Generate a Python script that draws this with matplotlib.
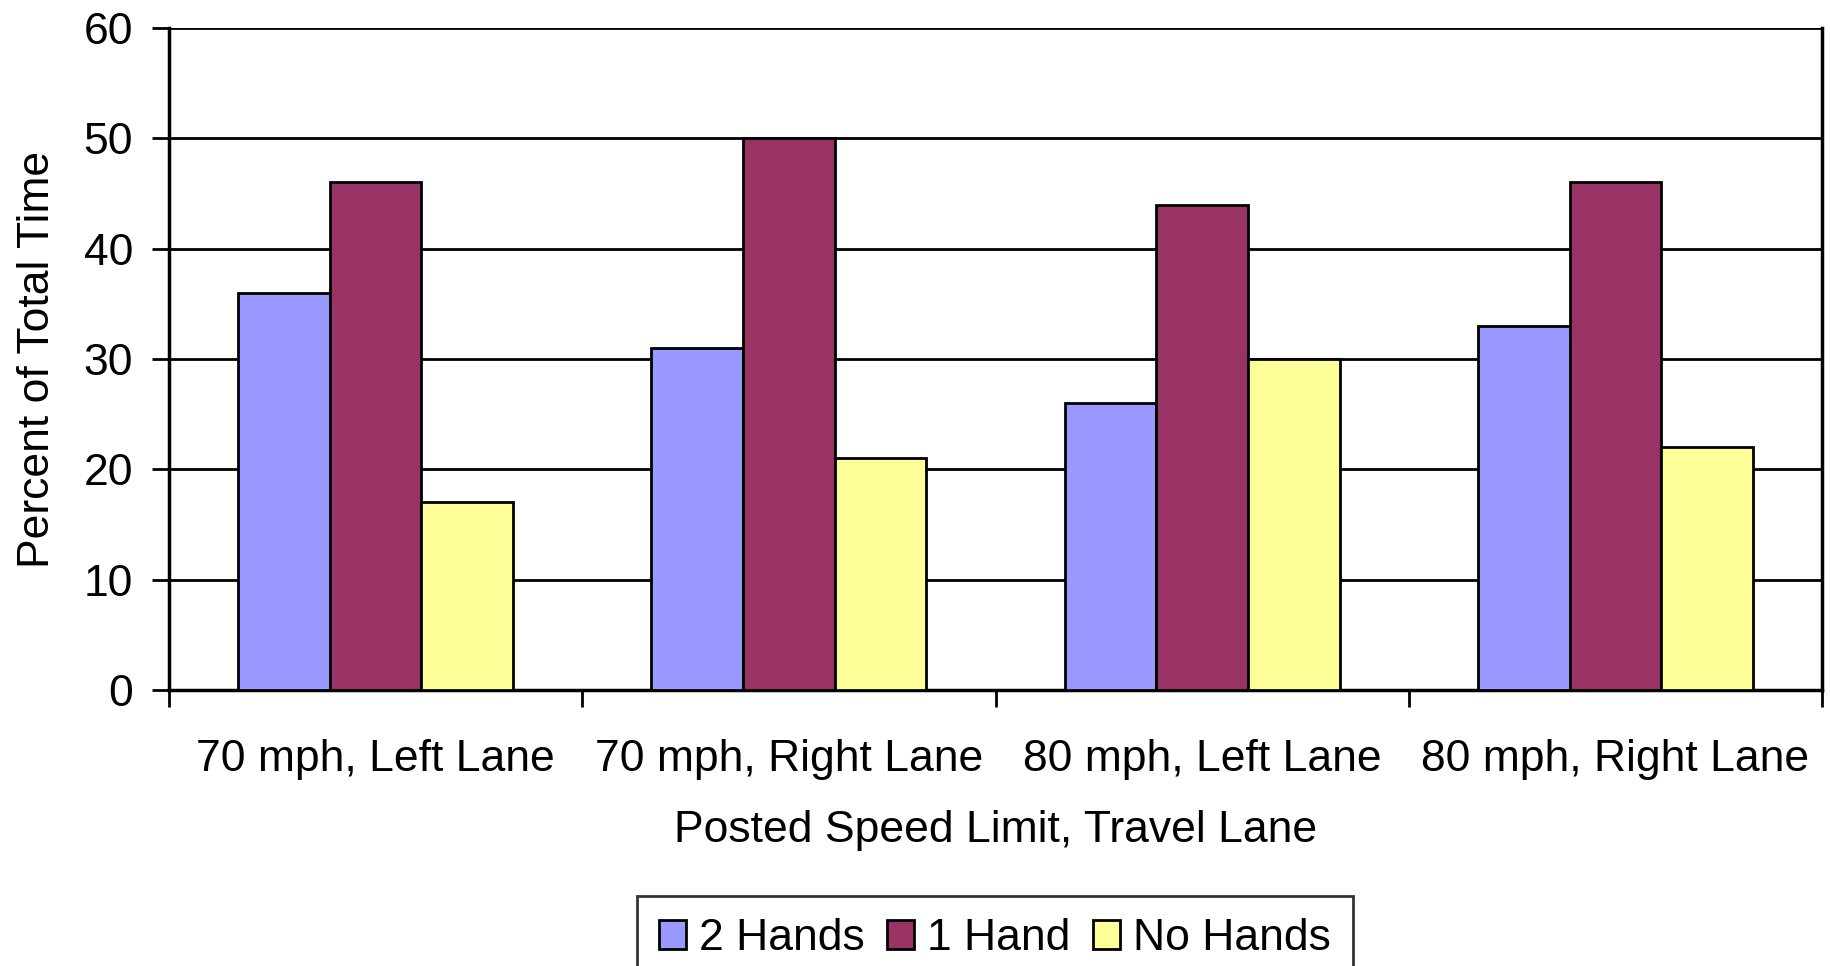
import matplotlib
matplotlib.use("Agg")
import matplotlib.pyplot as plt
import numpy as np

categories = ["70 mph, Left Lane", "70 mph, Right Lane", "80 mph, Left Lane", "80 mph, Right Lane"]
series_names = ["2 Hands", "1 Hand", "No Hands"]
two_hands = [36, 31, 26, 33]
one_hand = [46, 50, 44, 46]
no_hands = [17, 21, 30, 22]
colors = ["#9999FF", "#993366", "#FFFF99"]

plt.rcParams['font.family'] = ['Liberation Sans', 'DejaVu Sans']
fs = 32

fig = plt.figure(figsize=(18.31, 9.66), dpi=100)
ax = fig.add_axes([169 / 1831, 1 - 690 / 966, 1653 / 1831, 662 / 966])

x = np.arange(len(categories))
bw = 0.222
for i, (vals, name) in enumerate(zip([two_hands, one_hand, no_hands], series_names)):
    ax.bar(x + (i - 1) * bw, vals, width=bw, color=colors[i], edgecolor="black",
           linewidth=2.0, label=name, zorder=3)

ax.set_xlim(-0.5, len(categories) - 0.5)
ax.set_ylim(0, 60)
ax.set_yticks(range(0, 61, 10))
ax.yaxis.grid(True, color="black", linewidth=2.0, zorder=0)

# group boundaries carry the tick marks, labels sit in the middle
ax.set_xticks(np.arange(-0.5, len(categories), 1))
ax.set_xticklabels([])
ax.set_xticks(x, minor=True)
ax.set_xticklabels(categories, minor=True, fontsize=fs)
ax.tick_params(axis="x", which="major", direction="out", length=12, width=2.0)
ax.tick_params(axis="x", which="minor", length=0, pad=35)
ax.tick_params(axis="y", direction="out", length=12, width=2.0, labelsize=fs, pad=14)

for side in ["left", "bottom", "right"]:
    ax.spines[side].set_linewidth(2.5)
ax.spines["top"].set_visible(False)

ax.set_ylabel("Percent of Total Time", fontsize=fs, labelpad=18)
ax.set_xlabel("Posted Speed Limit, Travel Lane", fontsize=fs, labelpad=22)

leg = fig.legend(loc="upper center", bbox_to_anchor=(995 / 1831, 1 - 896 / 966), ncol=3,
                 frameon=True, fancybox=False, edgecolor="black", borderaxespad=0,
                 handlelength=0.6, handleheight=0.6, handletextpad=0.3,
                 columnspacing=0.5, borderpad=0.5,
                 prop={'family': ['Liberation Sans Narrow', 'Liberation Sans'], 'size': fs})
leg.get_frame().set_linewidth(2.0)
for h in leg.legend_handles:
    h.set_linewidth(2.0)

fig.savefig("out.png", dpi=100)
